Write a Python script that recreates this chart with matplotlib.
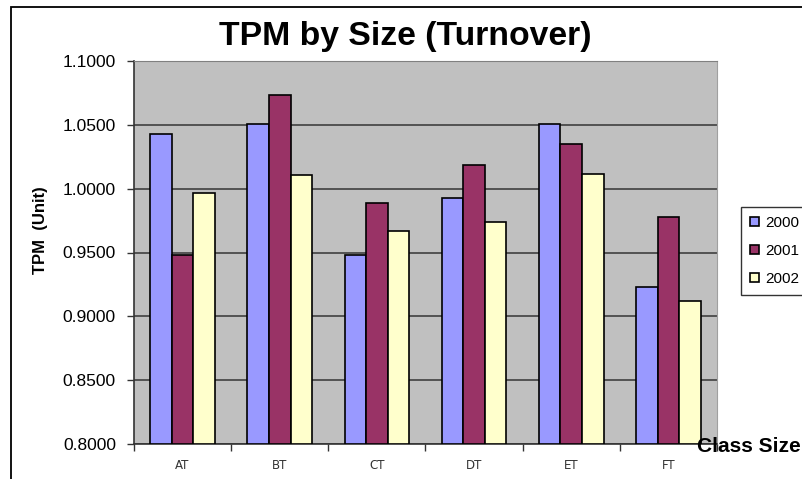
import matplotlib.pyplot as plt
import matplotlib.patches as patches
import numpy as np

# données
categories = ['AT', 'BT', 'CT', 'DT', 'ET', 'FT']
annees = ['2000', '2001', '2002']
tpm_2000 = [1.0426, 1.0507, 0.9482, 0.9929, 1.0507, 0.9229]
tpm_2001 = [0.9482, 1.0737, 0.9888, 1.0183, 1.0347, 0.9780]
tpm_2002 = [0.9966, 1.0104, 0.9665, 0.9736, 1.0118, 0.9122]
couleurs = ['#9999FF', '#993366', '#FFFFCC']

plt.rcParams['font.family'] = ['Liberation Sans', 'DejaVu Sans']

fig = plt.figure(figsize=(8.02, 4.79), dpi=100)
ax = fig.add_axes([134/802, 1-444/479, (717-134)/802, (444-61)/479])
ax.set_facecolor('#C0C0C0')

x = np.arange(len(categories))
larg = 1/4.5
series = [tpm_2000, tpm_2001, tpm_2002]
for i, (vals, c, lab) in enumerate(zip(series, couleurs, annees)):
    ax.bar(x + (i-1)*larg, np.array(vals) - 0.8, bottom=0.8, width=larg,
           color=c, edgecolor='black', linewidth=1.2, label=lab, zorder=3)

ax.set_xlim(-0.5, len(categories)-0.5)
ax.set_ylim(0.8, 1.1)
ax.set_yticks(np.arange(0.8, 1.1001, 0.05))
ax.set_yticklabels(['%.4f' % v for v in np.arange(0.8, 1.1001, 0.05)], fontsize=12.5)
ax.yaxis.grid(True, color='#4a4a4a', linewidth=1.3, zorder=0)
ax.set_axisbelow(True)

# ticks x aux frontières, étiquettes au centre
ax.set_xticks(np.arange(-0.5, len(categories)), minor=False)
ax.set_xticklabels([])
ax.set_xticks(x, minor=True)
ax.set_xticklabels(categories, minor=True, fontsize=8.5, color='#333333',
                   family=['DejaVu Sans'])
ax.tick_params(axis='x', which='major', length=5, width=1, color='#333333', direction='out')
ax.tick_params(axis='x', which='minor', length=0, pad=11)
ax.tick_params(axis='y', length=5, width=1, color='#333333', direction='out', pad=8)

ax.spines['left'].set_color('#333333')
ax.spines['bottom'].set_color('#333333')
ax.spines['left'].set_linewidth(1.2)
ax.spines['bottom'].set_linewidth(1.2)
ax.spines['top'].set_color('#808080')
ax.spines['right'].set_color('#A0A0A0')

fig.text(405/802, 1-37/479, 'TPM by Size (Turnover)', fontsize=24.3,
         fontweight='bold', ha='center', va='center')
fig.text(40/802, 1-230/479, 'TPM  (Unit)', fontsize=12, fontweight='bold',
         rotation=90, ha='center', va='center')
fig.text(697/802, 1-447/479, 'Class Size', fontsize=15, fontweight='bold',
         ha='left', va='center')

leg = ax.legend(loc='upper left', bbox_to_anchor=(741/802, 1-207/479),
                bbox_transform=fig.transFigure, fontsize=11, frameon=True,
                fancybox=False, edgecolor='black', handlelength=0.55,
                handleheight=0.55, handletextpad=0.45, labelspacing=0.9,
                borderpad=0.6, borderaxespad=0)
leg.get_frame().set_linewidth(1.0)

# cadre du graphique
fig.patches.append(patches.Rectangle((11/802, -0.1), 1.2, 1.1 - 7/479,
                                     transform=fig.transFigure, fill=False,
                                     edgecolor='black', linewidth=1.3))

plt.savefig('out.png', dpi=100)
plt.close()
